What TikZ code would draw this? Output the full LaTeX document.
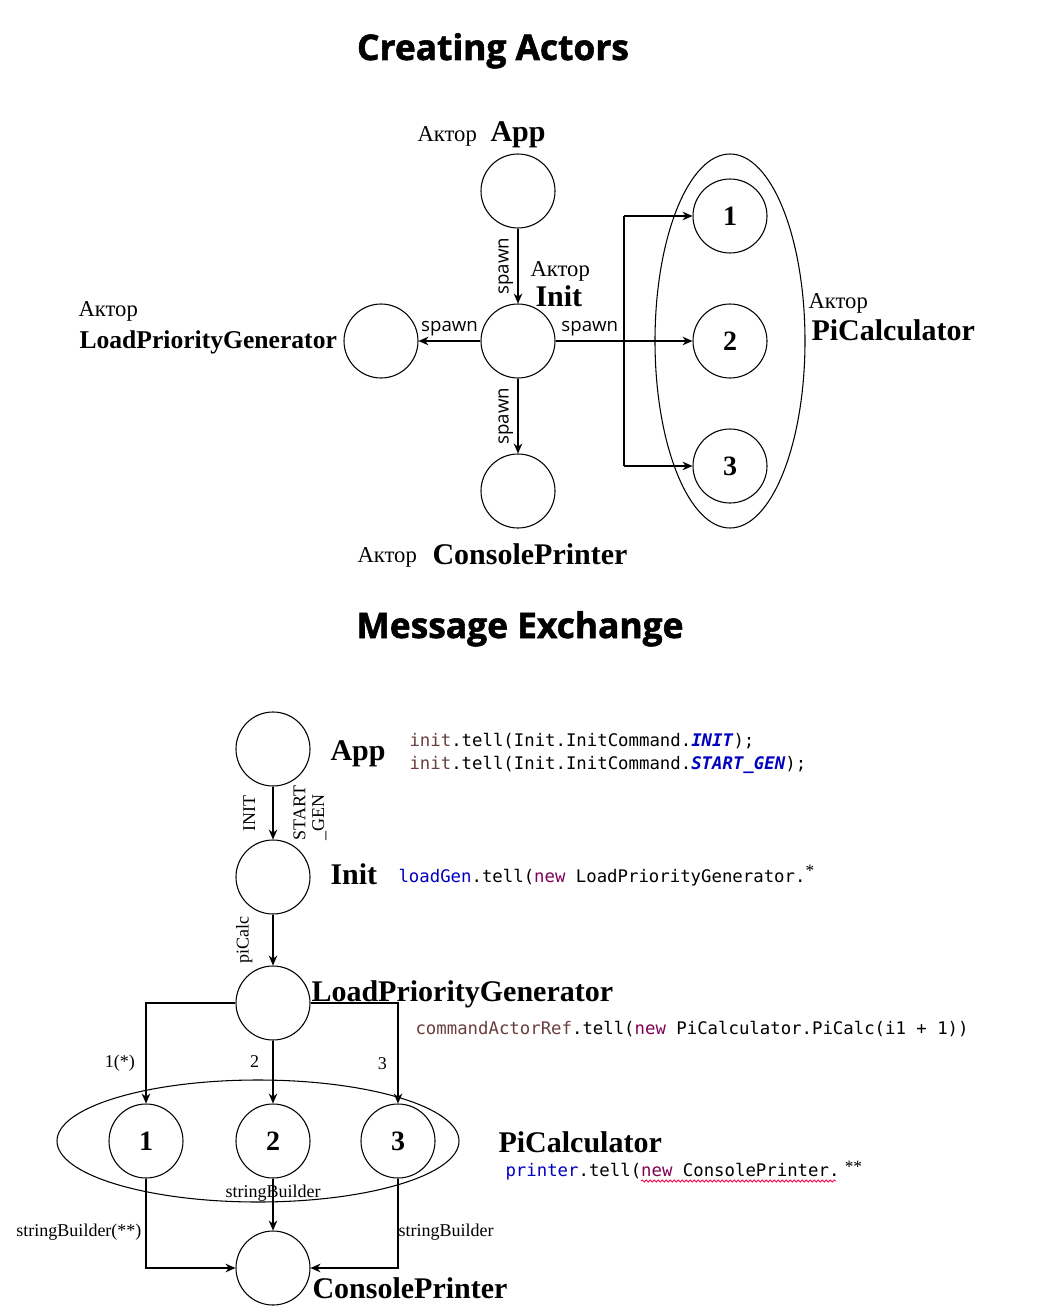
\documentclass[tikz,border=0pt]{standalone}
\usepackage{fontspec}
\setmainfont{Liberation Serif}
\setmonofont{DejaVu Sans Mono}
\newfontfamily\headfont[BoldFeatures={FakeBold=1.6}]{Open Sans}
\usetikzlibrary{positioning,arrows.meta,shapes.geometric,decorations.pathmorphing}
\definecolor{localvar}{HTML}{6A3E3E}
\definecolor{fieldvar}{HTML}{0000C0}
\definecolor{keyword}{HTML}{7F0055}

\begin{document}
\begin{tikzpicture}[x=0.75pt,y=-0.75pt,>={Stealth[length=7.5pt,width=6.5pt]},line width=0.8pt,
        actor/.style={circle,draw,minimum size=55.5pt,inner sep=0pt,font=\fontsize{21}{24}\selectfont\bfseries},
        group/.style={ellipse,draw,inner sep=0pt},
        heading/.style={font=\headfont\fontsize{26.5}{30}\selectfont\bfseries,anchor=base},
        actword/.style={font=\fontsize{17}{20}\selectfont,anchor=base west,inner sep=0pt},
        actname/.style={font=\fontsize{22.5}{26}\selectfont\bfseries,anchor=base west,inner sep=0pt},
        spawnlbl/.style={font=\headfont\fontsize{14}{16}\selectfont},
        msglbl/.style={font=\fontsize{13.5}{14}\selectfont},
        code/.style={font=\ttfamily\fontsize{13}{16}\selectfont,anchor=base west,inner sep=0pt},
        spell/.style={line width=0.6pt,draw=red!70!magenta,decorate,decoration={snake,amplitude=0.8pt,segment length=3pt}}]
        \useasboundingbox (0,0) rectangle (1042,1313);
        % creating actors
        \node[heading] (title1) at (493,60) {Creating Actors};
        \node[actor] (app) at (518,191) {};
        \node[actor] (init) at (518,341) {};
        \node[actor] (loadgen) at (381,341) {};
        \node[actor] (printer) at (518,491) {};
        \node[group,minimum width=112.5pt,minimum height=280.5pt] (calcs) at (730,341) {};
        \node[actor] (calc1) at (730,216) {1};
        \node[actor] (calc2) at (730,341) {2};
        \node[actor] (calc3) at (730,466) {3};
        \coordinate (fork1) at (624,216);
        \coordinate (fork3) at (624,466);
        \path[->]
        (app) edge node[spawnlbl,rotate=90,anchor=south] {spawn} (init)
        (init) edge node[spawnlbl,rotate=90,anchor=south] {spawn} (printer)
        (init) edge node[spawnlbl,above] {spawn} (loadgen)
        (init) edge node[spawnlbl,above,near start] {spawn} (calc2)
        (fork1) edge (calc1)
        (fork3) edge (calc3);
        \draw (fork1) -- (fork3);
        \node[actword] (appword) at (417,142) {Актор};
        \node[actname] (appname) at (490,142) {App};
        \node[actword] (initword) at (530,276) {Актор};
        \node[actname] (initname) at (535,306) {Init};
        \node[actword] (loadgenword) at (78,316) {Актор};
        \node[actname,font=\fontsize{19.2}{22}\selectfont\bfseries] (loadgenname) at (79,348) {LoadPriorityGenerator};
        \node[actword] (calcsword) at (808,308) {Актор};
        \node[actname] (calcsname) at (811,340) {PiCalculator};
        \node[actword] (printerword) at (357,562) {Актор};
        \node[actname] (printername) at (432,564) {ConsolePrinter};
        % message exchange
        \node[heading] (title2) at (520,638) {Message Exchange};
        \node[actor] (app2) at (273,749) {};
        \node[actor] (init2) at (273,877) {};
        \node[actor] (loadgen2) at (273,1003) {};
        \node[group,minimum width=301.5pt,minimum height=91.5pt] (calcs2) at (258,1141) {};
        \node[actor] (worker1) at (146,1141) {1};
        \node[actor] (worker2) at (273,1141) {2};
        \node[actor] (worker3) at (398,1141) {3};
        \node[actor] (printer2) at (273,1268) {};
        \path[->]
        (app2) edge node[msglbl,rotate=90,anchor=south,inner sep=13pt] {INIT}
                   node[msglbl,rotate=90,anchor=north,align=left,inner sep=15pt] {START\\\_GEN} (init2)
        (init2) edge node[msglbl,rotate=90,anchor=south,inner sep=15pt] {piCalc} (loadgen2)
        (loadgen2) edge node[msglbl,left,pos=0.33,inner sep=10pt] {2} (worker2)
        (worker2) edge node[msglbl,pos=0.28] {stringBuilder} (printer2);
        \draw[->] (loadgen2) -| node[msglbl,left,pos=0.8,inner sep=8pt] {1(*)} (worker1);
        \draw[->] (loadgen2) -| node[msglbl,left,pos=0.8,inner sep=8pt] {3} (worker3);
        \draw[->] (worker1) |- node[msglbl,left,pos=0.3,inner sep=3pt] {stringBuilder(**)} (printer2);
        \draw[->] (worker3) |- node[msglbl,right,pos=0.3,inner sep=0pt] {stringBuilder} (printer2);
        \node[actname] (app2name) at (330,760) {App};
        \node[code] (appcode1) at (409,746) {\textcolor{localvar}{init}.tell(Init.InitCommand.\textcolor{fieldvar}{\textbf{\textit{INIT}}});};
        \node[code] (appcode2) at (409,769) {\textcolor{localvar}{init}.tell(Init.InitCommand.\textcolor{fieldvar}{\textbf{\textit{START\_GEN}}});};
        \node[actname] (init2name) at (330,884) {Init};
        \node[code] (initcode) at (398,882) {\textcolor{fieldvar}{loadGen}.tell(\textcolor{keyword}{new} LoadPriorityGenerator.{\rmfamily\raisebox{4pt}{*}}};
        \node[actname] (loadgen2name) at (311,1001) {LoadPriorityGenerator};
        \node[code] (loadgencode) at (415,1034) {\textcolor{localvar}{commandActorRef}.tell(\textcolor{keyword}{new} PiCalculator.PiCalc(i1 + 1))};
        \node[actname] (calcs2name) at (498,1152) {PiCalculator};
        \node[code] (calccode) at (505,1176) {\textcolor{fieldvar}{printer}.tell(\textcolor{keyword}{new} ConsolePrinter.\hspace{4pt}{\rmfamily\raisebox{3pt}{**}}};
        \draw[spell] (641,1181) -- (836,1181);
        \node[actname] (printer2name) at (312,1298) {ConsolePrinter};
    \end{tikzpicture}
\end{document}
